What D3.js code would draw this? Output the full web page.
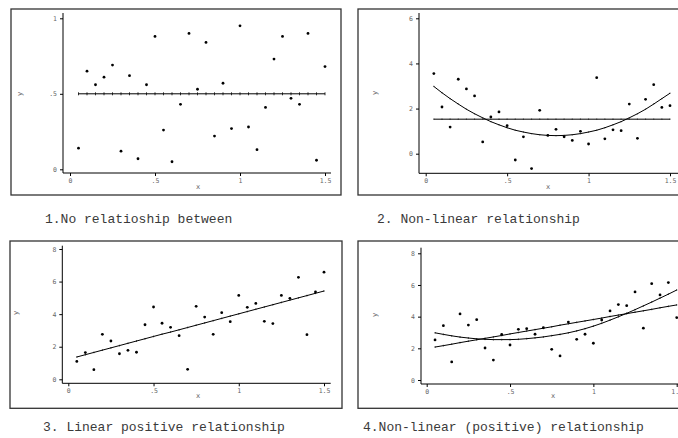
<!DOCTYPE html>
<html>
<head>
<meta charset="utf-8">
<script src="https://cdnjs.cloudflare.com/ajax/libs/d3/7.8.5/d3.min.js"></script>
<style>
  body { margin: 0; background: #fff; }
  svg { display: block; }
  .tick text { font-family: "DejaVu Sans Mono", monospace; font-size: 6.5px; fill: #666; }
  .caption { font-family: "Liberation Mono", monospace; font-size: 13px; fill: #3a3a3a; }
  .axis-title { font-family: "DejaVu Sans Mono", monospace; font-size: 7px; fill: #666; }
</style>
</head>
<body>
<div id="chart"></div>
<script>
// x values shared by all four panels
var xValues = [0.05, 0.10, 0.15, 0.20, 0.25, 0.30, 0.35, 0.40, 0.45, 0.50,
               0.55, 0.60, 0.65, 0.70, 0.75, 0.80, 0.85, 0.90, 0.95, 1.00,
               1.05, 1.10, 1.15, 1.20, 1.25, 1.30, 1.35, 1.40, 1.45, 1.50];

// panel 1 : no relationship
var y1 = [0.14, 0.65, 0.56, 0.61, 0.69, 0.12, 0.62, 0.07, 0.56, 0.88,
          0.26, 0.05, 0.43, 0.90, 0.53, 0.84, 0.22, 0.57, 0.27, 0.95,
          0.28, 0.13, 0.41, 0.73, 0.88, 0.47, 0.43, 0.90, 0.06, 0.68];
var mean1 = 0.5;

// panel 2 : non-linear
var y2 = [3.55, 2.07, 1.18, 3.30, 2.87, 2.56, 0.52, 1.63, 1.85, 1.24,
          -0.28, 0.75, -0.66, 1.92, 0.81, 1.08, 0.75, 0.59, 0.99, 0.43,
          3.37, 0.66, 1.06, 1.02, 2.20, 0.68, 2.41, 3.06, 2.05, 2.13];
var mean2 = 1.53;
var curve2 = [2.98, 2.70, 2.44, 2.20, 1.97, 1.77, 1.59, 1.42, 1.28, 1.15,
              1.04, 0.96, 0.89, 0.84, 0.81, 0.80, 0.81, 0.84, 0.89, 0.96,
              1.04, 1.15, 1.28, 1.42, 1.59, 1.77, 1.97, 2.20, 2.44, 2.68];

// panel 3 : linear positive
var y3 = [1.10, 1.64, 0.59, 2.76, 2.35, 1.57, 1.78, 1.66, 3.35, 4.44,
          3.44, 3.19, 2.68, 0.61, 4.48, 3.82, 2.76, 4.09, 3.54, 5.15,
          4.42, 4.66, 3.56, 3.42, 5.15, 4.97, 6.26, 2.74, 5.36, 6.58];
var line3 = [1.37, 1.51, 1.65, 1.79, 1.93, 2.07, 2.21, 2.35, 2.49, 2.63,
             2.77, 2.90, 3.04, 3.18, 3.32, 3.46, 3.60, 3.74, 3.88, 4.02,
             4.16, 4.30, 4.44, 4.58, 4.72, 4.86, 5.00, 5.14, 5.28, 5.42];

// panel 4 : non-linear positive
var y4 = [2.53, 3.43, 1.14, 4.17, 3.47, 3.81, 2.02, 1.26, 2.88, 2.21,
          3.20, 3.24, 2.89, 3.30, 1.94, 1.52, 3.66, 2.57, 2.89, 2.32,
          3.79, 4.36, 4.76, 4.69, 5.56, 3.27, 6.08, 5.37, 6.15, 3.94];
var line4 = [2.08, 2.17, 2.26, 2.36, 2.45, 2.54, 2.63, 2.72, 2.81, 2.91,
             3.00, 3.09, 3.18, 3.27, 3.36, 3.46, 3.55, 3.64, 3.73, 3.82,
             3.91, 4.01, 4.10, 4.19, 4.28, 4.37, 4.46, 4.56, 4.65, 4.74];
var curve4 = [2.98, 2.88, 2.79, 2.71, 2.65, 2.60, 2.57, 2.55, 2.55, 2.55,
              2.57, 2.61, 2.66, 2.72, 2.80, 2.88, 2.98, 3.10, 3.24, 3.40,
              3.58, 3.78, 3.99, 4.21, 4.44, 4.68, 4.92, 5.17, 5.42, 5.68];

var xTicks = [0, 0.5, 1, 1.5];
var yTicks1 = [0, 0.5, 1];
var yTicks2 = [0, 2, 4, 6];
var yTicks34 = [0, 2, 4, 6, 8];

var captions = ["1.No relatioship between", "2.  Non-linear relationship",
                "3. Linear positive relationship", "4.Non-linear (positive) relationship"];

var svg = d3.select("#chart").append("svg")
    .attr("width", 678)
    .attr("height", 438);

function fmt(d) {
  return d === 0 ? "0" : String(d).replace(/^0\./, ".");
}

function drawPanel(p) {
  var g = svg.append("g");

  g.append("rect")
    .attr("x", p.frame[0]).attr("y", p.frame[1])
    .attr("width", p.frame[2] - p.frame[0]).attr("height", p.frame[3] - p.frame[1])
    .attr("fill", "none").attr("stroke", "#333").attr("stroke-width", 1.3);

  var xScale = d3.scaleLinear().domain([0, 1.5]).range(p.xRange);
  var yScale = d3.scaleLinear().domain(p.yDomain).range(p.yRange);

  // axes (domain path replaced by our own longer lines)
  g.append("g")
    .attr("transform", "translate(0," + p.xAxisY + ")")
    .call(d3.axisBottom(xScale).tickValues(xTicks).tickFormat(fmt).tickSize(3).tickSizeOuter(0).tickPadding(2));
  g.append("g")
    .attr("transform", "translate(" + p.yAxisX + ",0)")
    .call(d3.axisLeft(yScale).tickValues(p.yTicks).tickFormat(fmt).tickSize(3).tickSizeOuter(0).tickPadding(3));
  g.selectAll(".domain").remove();
  g.selectAll(".tick line").attr("stroke", "#000");

  g.append("line")
    .attr("x1", p.xAxisExt[0]).attr("x2", p.xAxisExt[1])
    .attr("y1", p.xAxisY).attr("y2", p.xAxisY)
    .attr("stroke", "#000").attr("stroke-width", 1);
  g.append("line")
    .attr("x1", p.yAxisX).attr("x2", p.yAxisX)
    .attr("y1", p.yAxisExt[0]).attr("y2", p.yAxisExt[1])
    .attr("stroke", "#000").attr("stroke-width", 1);

  g.append("text").attr("class", "axis-title")
    .attr("text-anchor", "middle")
    .attr("transform", "translate(" + p.yTitle[0] + "," + p.yTitle[1] + ") rotate(-90)")
    .text("y");
  g.append("text").attr("class", "axis-title")
    .attr("text-anchor", "middle")
    .attr("x", p.xTitle[0]).attr("y", p.xTitle[1])
    .text("x");

  // fitted lines
  var line = d3.line()
    .x(function(d) { return xScale(d[0]); })
    .y(function(d) { return yScale(d[1]); });

  p.fits.forEach(function(f) {
    var pts = xValues.map(function(xv, i) {
      return [xv, Array.isArray(f) ? f[i] : f];
    });
    g.append("path")
      .attr("d", line(pts))
      .attr("fill", "none")
      .attr("stroke", "#000")
      .attr("stroke-width", 1);
    g.selectAll(null)
      .data(pts)
     .enter()
      .append("line")
      .attr("x1", function(d) { return xScale(d[0]); })
      .attr("x2", function(d) { return xScale(d[0]); })
      .attr("y1", function(d) { return yScale(d[1]) - p.markH; })
      .attr("y2", function(d) { return yScale(d[1]) + p.markH; })
      .attr("stroke", "#000")
      .attr("stroke-width", 0.8);
  });

  // scatter points
  g.selectAll(".pt")
    .data(p.ys)
   .enter()
    .append("circle")
    .attr("class", "pt")
    .attr("cx", function(d, i) { return xScale(xValues[i]); })
    .attr("cy", function(d) { return yScale(d); })
    .attr("r", 1.4)
    .attr("fill", "#000");

  svg.append("text").attr("class", "caption")
    .attr("x", p.caption[0]).attr("y", p.caption[1])
    .text(p.captionText);
}

drawPanel({
  frame: [11, 9, 341, 195],
  xRange: [70, 325], yDomain: [0, 1], yRange: [169.3, 18.3],
  xAxisY: 173, yAxisX: 63, xAxisExt: [63, 331], yAxisExt: [13, 173],
  yTicks: yTicks1, yTitle: [22, 94], xTitle: [198, 189], markH: 1.5,
  ys: y1, fits: [mean1],
  caption: [45, 223], captionText: captions[0]
});

drawPanel({
  frame: [358, 9, 700, 195],
  xRange: [425.7, 670], yDomain: [0, 6], yRange: [153.7, 18.3],
  xAxisY: 173.3, yAxisX: 419, xAxisExt: [419, 678], yAxisExt: [13, 173.3],
  yTicks: yTicks2, yTitle: [377, 93], xTitle: [548, 189], markH: 0.6,
  ys: y2, fits: [mean2, curve2],
  caption: [377, 223], captionText: captions[1]
});

drawPanel({
  frame: [10, 241, 342, 408.3],
  xRange: [68.3, 324], yDomain: [0, 8], yRange: [379.3, 249],
  xAxisY: 383.3, yAxisX: 62.3, xAxisExt: [62.3, 330.7], yAxisExt: [245.7, 383.3],
  yTicks: yTicks34, yTitle: [18, 313], xTitle: [198, 398], markH: 0.8,
  ys: y3, fits: [line3],
  caption: [43, 431], captionText: captions[2]
});

drawPanel({
  frame: [358, 241, 700, 408.3],
  xRange: [426.7, 676.7], yDomain: [0, 8], yRange: [380, 253.3],
  xAxisY: 384, yAxisX: 421, xAxisExt: [421, 678], yAxisExt: [247.7, 384],
  yTicks: yTicks34, yTitle: [377, 315], xTitle: [553, 398], markH: 0.8,
  ys: y4, fits: [line4, curve4],
  caption: [363, 431], captionText: captions[3]
});
</script>
</body>
</html>
